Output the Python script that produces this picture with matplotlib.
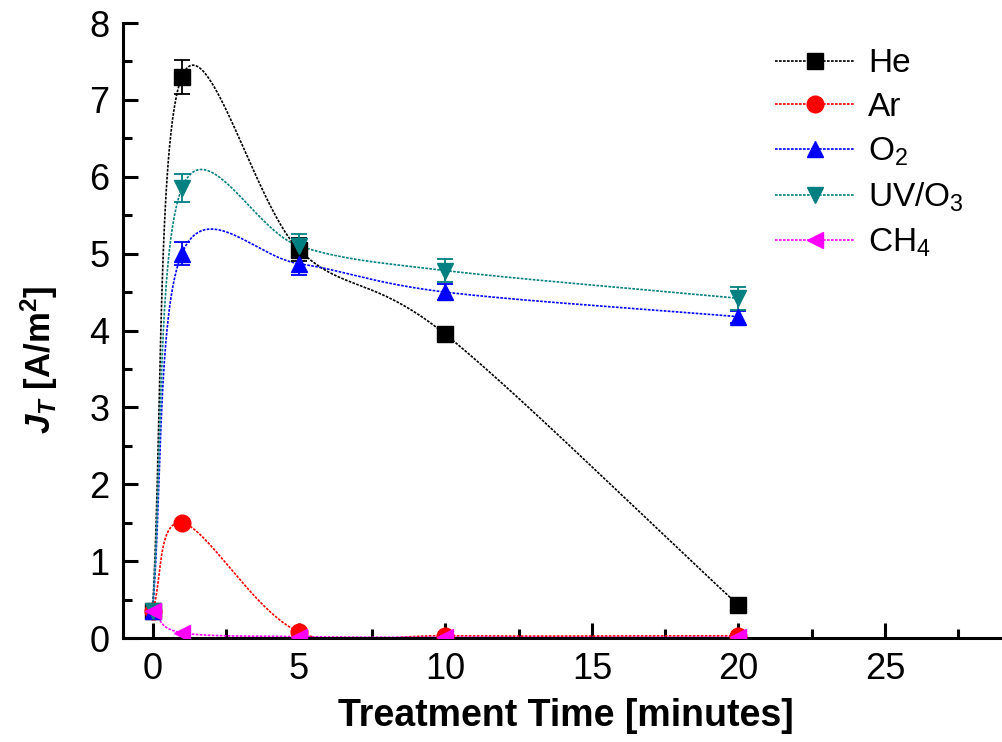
import numpy as np
import matplotlib
matplotlib.use("Agg")
import matplotlib.pyplot as plt
from matplotlib.ticker import MultipleLocator

# treatment time [minutes]
times = [0, 1, 5, 10, 20]

he = [0.35, 7.30, 5.05, 3.95, 0.43]
he_err = [0.0, 0.22, 0.15, 0.10, 0.0]
ar = [0.35, 1.50, 0.08, 0.03, 0.03]
o2 = [0.35, 5.00, 4.87, 4.50, 4.18]
o2_err = [0.0, 0.15, 0.15, 0.10, 0.08]
uvo3 = [0.35, 5.85, 5.10, 4.78, 4.42]
uvo3_err = [0.0, 0.18, 0.15, 0.15, 0.15]
ch4 = [0.35, 0.07, 0.02, 0.01, 0.01]

labels = ['He', 'Ar', 'O$_2$', 'UV/O$_3$', 'CH$_4$']
colors = ['black', 'red', 'blue', '#008080', 'magenta']
markers = ['s', 'o', '^', 'v', '<']

plt.rcParams['font.family'] = ['Liberation Sans', 'DejaVu Sans']
plt.rcParams['mathtext.fontset'] = 'custom'
plt.rcParams['mathtext.rm'] = 'Liberation Sans'
plt.rcParams['mathtext.it'] = 'Liberation Sans:italic:bold'
plt.rcParams['mathtext.bf'] = 'Liberation Sans:bold'


def smooth_line(x, y, n=60):
    # parametric Catmull-Rom through the points (similar to Origin's spline line)
    P = np.column_stack([x, y]).astype(float)
    k = len(P)
    m = np.zeros_like(P)
    m[0] = P[1] - P[0]
    m[-1] = P[-1] - P[-2]
    for i in range(1, k - 1):
        m[i] = (P[i + 1] - P[i - 1]) / 2
    t = np.linspace(0, 1, n)[:, None]
    h00 = 2 * t**3 - 3 * t**2 + 1
    h10 = t**3 - 2 * t**2 + t
    h01 = -2 * t**3 + 3 * t**2
    h11 = t**3 - t**2
    segs = []
    for i in range(k - 1):
        segs.append(h00 * P[i] + h10 * m[i] + h01 * P[i + 1] + h11 * m[i + 1])
    pts = np.vstack(segs)
    return pts[:, 0], pts[:, 1]


fig = plt.figure(figsize=(10.02, 7.42), dpi=100)
ax = fig.add_axes([0.123, 0.140, 0.877, 0.829])

series = [he, ar, o2, uvo3, ch4]
errs = [he_err, None, o2_err, uvo3_err, None]
dash = (0, (1.6, 0.8))
for vals, err, lab, c, m in zip(series, errs, labels, colors, markers):
    xs, ys = smooth_line(times, vals)
    ax.plot(xs, ys, color=c, lw=1.2, ls=dash, zorder=2)
    if err is not None:
        ax.errorbar(times, vals, yerr=err, fmt='none', ecolor=c, elinewidth=1.3,
                    capsize=5.5, capthick=1.3, zorder=3)
    ax.plot(times, vals, ls='none', marker=m, color=c, ms=12, zorder=4)
    # legend proxy
    ax.plot([], [], color=c, lw=1.2, ls=dash, marker=m, ms=12, label=lab)

ax.set_xlim(-1, 29)
ax.set_ylim(0, 8)
ax.xaxis.set_major_locator(MultipleLocator(5))
ax.xaxis.set_minor_locator(MultipleLocator(2.5))
ax.yaxis.set_major_locator(MultipleLocator(1))
ax.yaxis.set_minor_locator(MultipleLocator(0.5))
ax.spines['top'].set_visible(False)
ax.spines['right'].set_visible(False)
for s in ['left', 'bottom']:
    ax.spines[s].set_linewidth(2.2)
ax.tick_params(which='major', direction='in', length=11, width=2.2,
               labelsize=26, pad=10)
ax.tick_params(which='minor', direction='in', length=6.5, width=2.2)
ax.tick_params(axis='y', pad=10)

ax.set_xlabel('Treatment Time [minutes]', fontsize=27, fontweight='bold')
ax.xaxis.set_label_coords(0.504, -0.097)
ax.set_ylabel(r'$J_T$ [A/m$^\mathbf{2}$]', fontsize=25, fontweight='bold')
ax.yaxis.set_label_coords(-0.072, 0.452)

ax.legend(loc='upper left', bbox_to_anchor=(0.773, 0.935),
          bbox_transform=fig.transFigure, frameon=False, borderpad=0,
          borderaxespad=0, fontsize=24, handlelength=2.4, handletextpad=0.4,
          labelspacing=0.38)

fig.savefig('out.png', dpi=100)
